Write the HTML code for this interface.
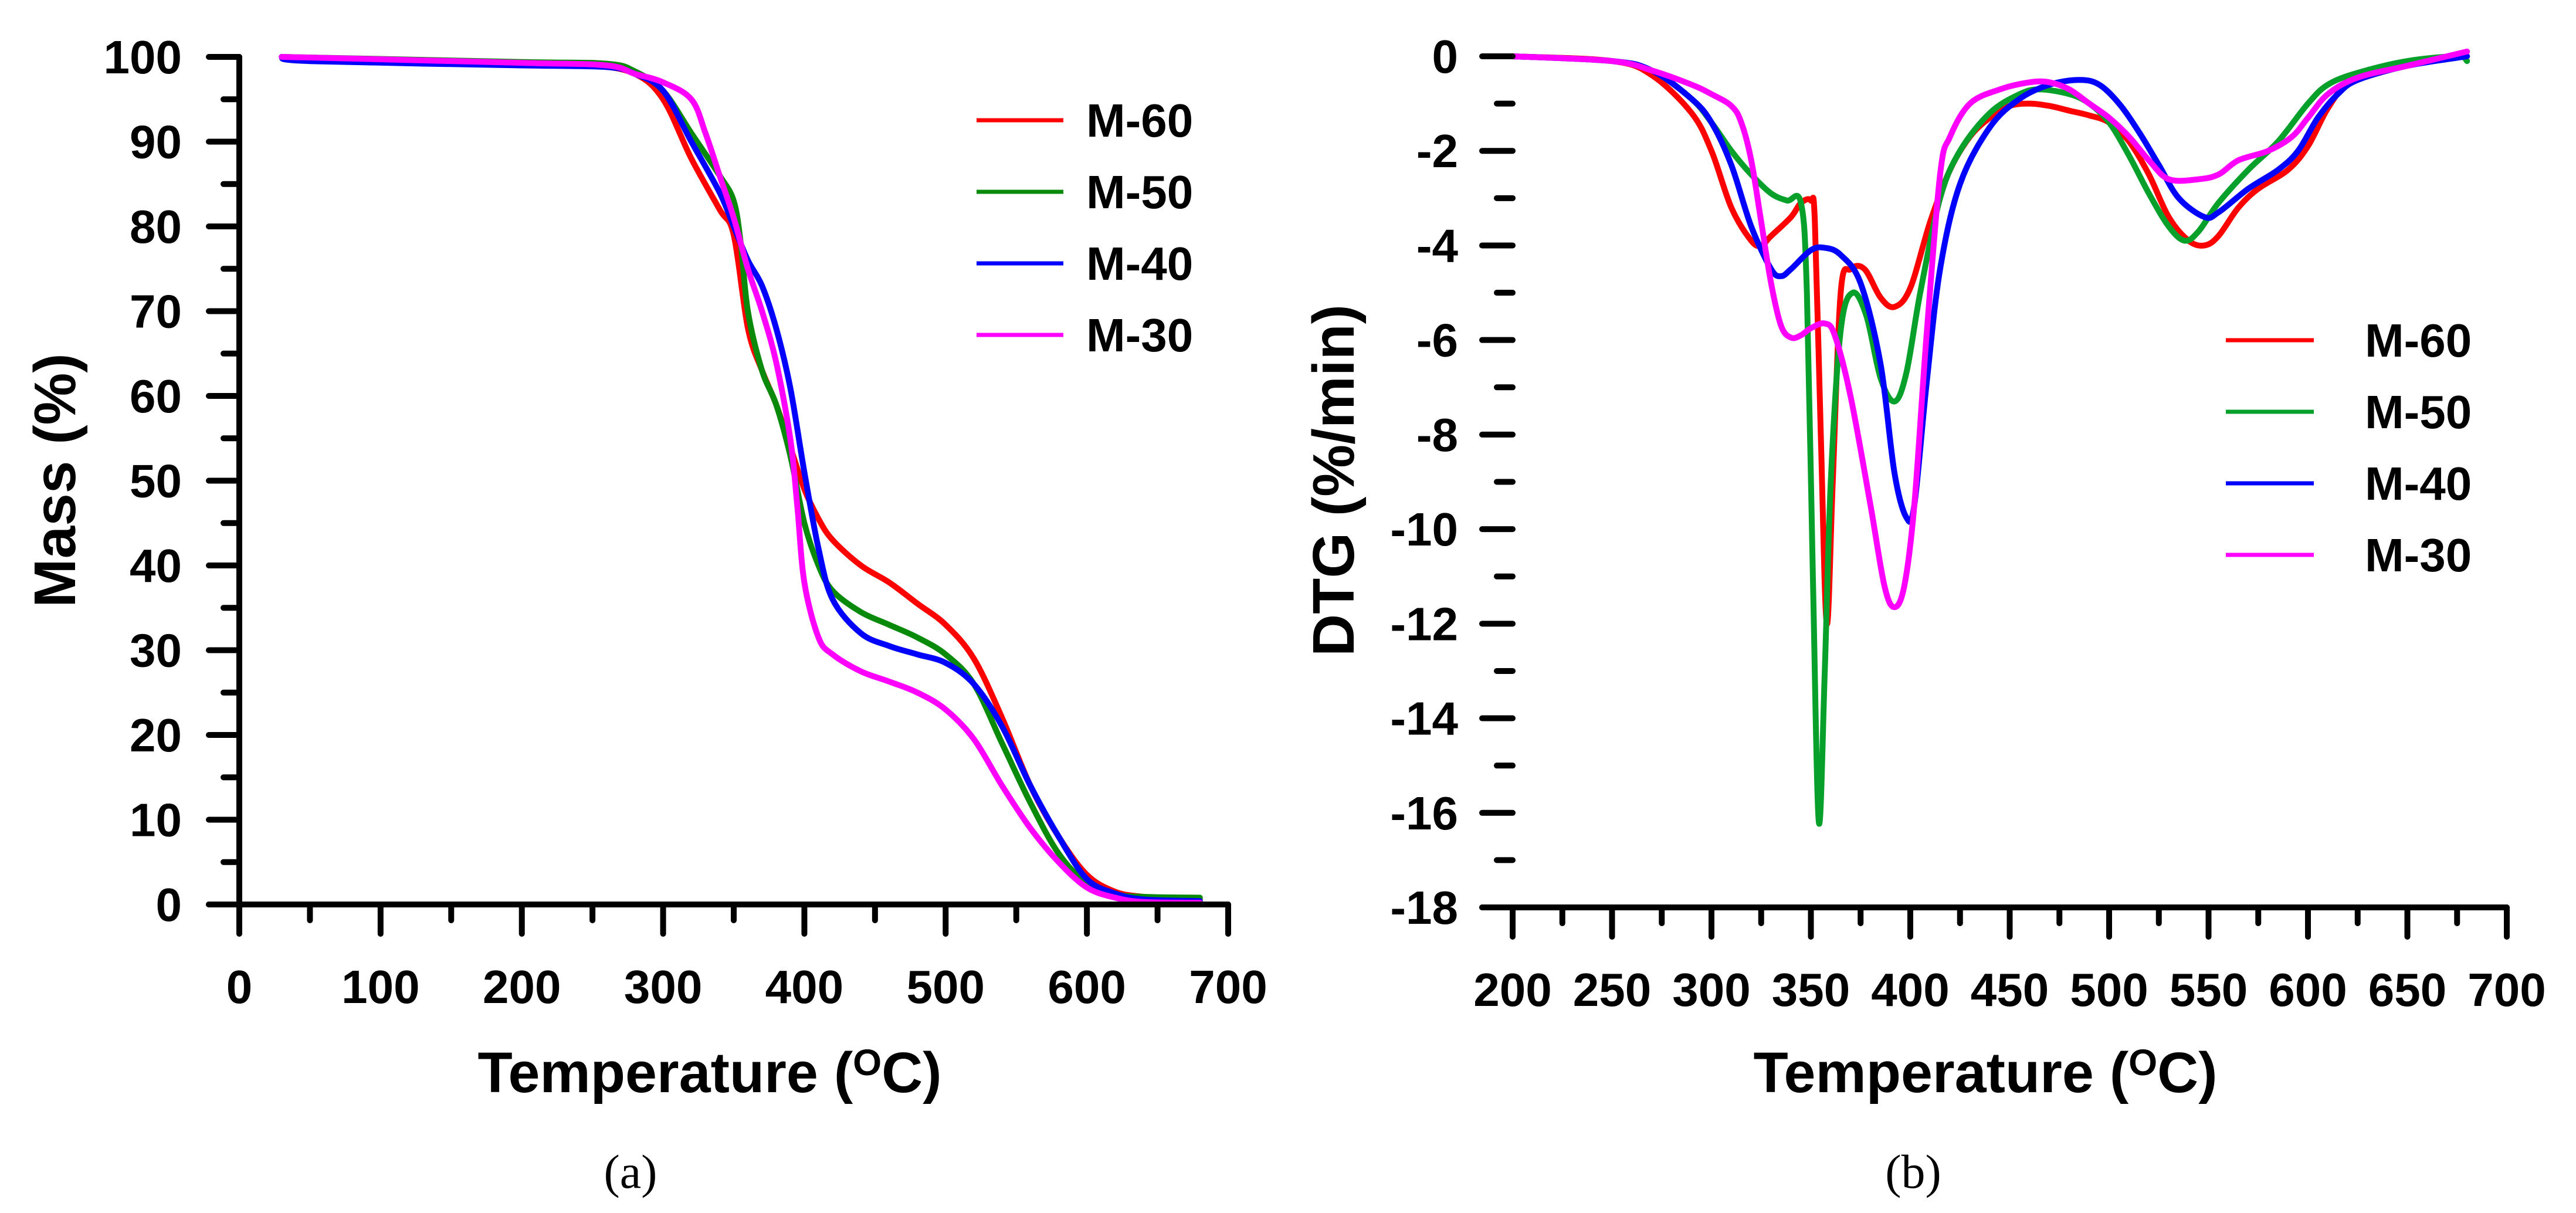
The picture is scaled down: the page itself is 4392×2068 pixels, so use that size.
<!DOCTYPE html>
<html><head><meta charset="utf-8"><style>
html,body{margin:0;padding:0;background:#fff;}
svg{display:block;font-family:"Liberation Sans",Arial,sans-serif;}
</style></head><body>
<svg id="fig" width="4392" height="2068" viewBox="0 0 4392 2068" xmlns="http://www.w3.org/2000/svg">
<g id="chartA"></g>
<g id="chartB"></g>
</svg>
<script>
// ---------- Chart A data (Mass %) ----------
const seriesNames = ["M-60","M-50","M-40","M-30"];
const aXTicks = [0,100,200,300,400,500,600,700];
const aYTicks = [0,10,20,30,40,50,60,70,80,90,100];
const a60T = [30,100,200,250,280,300,320,340,350,360,370,380,390,400,410,420,440,460,480,500,520,540,560,580,600,620,640,660,680];
const a60V = [100,99.6,99.3,99,98,95,88,82,79,68,63,59,54,49,45.5,43,40,38,35.5,33,29,22,14,8,3.5,1.5,0.9,0.7,0.6];
const a50T = [30,200,260,280,300,320,340,350,355,360,370,380,390,400,410,420,440,460,480,500,520,540,560,580,600,620,640,680];
const a50V = [100,99.4,99.2,98.3,96,91,86,83,78,70,63,59,53,45,40,37,34.5,33,31.5,29.5,26,19,12,6,2.5,1.2,0.9,0.8];
const a40T = [30,50,200,260,280,300,320,340,350,360,370,380,390,400,410,420,440,460,480,500,520,540,560,580,600,620,640,680];
const a40V = [100,99.5,99,98.8,98,96,90,84,80,76,73,68,61,51,42,36,32,30.5,29.5,28.5,26,21,14,8,3,1.3,0.6,0.4];
const a30T = [30,200,260,280,300,320,330,340,350,360,370,380,390,395,400,410,420,440,460,480,500,520,540,560,580,600,620,640,680];
const a30V = [100,99.3,99,98,97,95,91,86,81,75,70,64,55,47,38,31.5,29.5,27.5,26.3,25,23,19.5,14,9,5,2,0.8,0.3,0.2];
// ---------- Chart B data (DTG %/min) ----------
const bXTicks = [200,250,300,350,400,450,500,550,600,650,700];
const bYTicks = [0,-2,-4,-6,-8,-10,-12,-14,-16,-18];
const b60T = [200,250,270,290,300,310,320,325,330,340,345,350,352,355,358,361,365,370,377,385,392,400,410,420,430,440,450,460,470,480,490,500,510,520,530,540,548,555,565,575,590,600,610,620,640,660,680];
const b60V = [0,-0.1,-0.4,-1.2,-2,-3.2,-3.9,-4.0,-3.8,-3.4,-3.1,-3.05,-3.5,-8,-12,-9,-5,-4.5,-4.5,-5.1,-5.3,-4.9,-3.5,-2.4,-1.7,-1.3,-1.05,-1.0,-1.05,-1.15,-1.25,-1.4,-1.8,-2.5,-3.4,-3.9,-4.0,-3.8,-3.2,-2.8,-2.4,-1.9,-1.1,-0.6,-0.3,-0.1,0];
const b50T = [200,250,270,290,300,310,320,330,338,345,348,351,354,357,360,365,371,378,385,392,398,405,415,425,440,455,465,480,490,500,510,520,530,538,545,555,570,585,600,610,625,650,675,680];
const b50V = [0,-0.1,-0.3,-0.9,-1.4,-2.0,-2.5,-2.9,-3.05,-3.1,-5,-11,-16.2,-13,-9,-5.8,-5.0,-5.5,-6.8,-7.3,-6.7,-5,-3,-2,-1.2,-0.8,-0.7,-0.8,-1.0,-1.4,-2.1,-2.9,-3.6,-3.9,-3.7,-3.1,-2.4,-1.8,-1.0,-0.6,-0.35,-0.1,0,-0.1];
const b40T = [200,250,270,290,300,310,320,330,335,340,350,357,365,375,385,392,398,402,408,415,425,440,455,470,485,495,505,515,525,535,548,555,570,585,595,605,615,625,650,680];
const b40V = [0,-0.1,-0.3,-0.9,-1.4,-2.3,-3.6,-4.5,-4.65,-4.5,-4.1,-4.05,-4.2,-4.8,-6.5,-8.8,-9.75,-9.5,-7,-4.5,-2.7,-1.5,-0.9,-0.6,-0.5,-0.6,-1.0,-1.6,-2.3,-3.0,-3.4,-3.3,-2.8,-2.4,-2.0,-1.3,-0.8,-0.5,-0.2,0];
const b30T = [200,250,270,290,300,310,315,320,325,330,335,340,345,350,357,362,370,380,387,392,397,402,408,415,420,430,445,460,470,480,490,500,510,520,530,545,555,565,580,592,600,610,625,650,680];
const b30V = [0,-0.1,-0.3,-0.6,-0.8,-1.05,-1.4,-2.2,-3.5,-4.8,-5.7,-5.95,-5.9,-5.75,-5.65,-5.9,-7.2,-9.5,-11.2,-11.65,-11.2,-9.5,-6,-2.5,-1.7,-1.0,-0.7,-0.55,-0.55,-0.7,-1.0,-1.3,-1.7,-2.2,-2.6,-2.6,-2.5,-2.2,-2.0,-1.7,-1.3,-0.8,-0.45,-0.2,0.1];

const NS = "http://www.w3.org/2000/svg";
function mk(parent, tag, attrs, text){
  const e = document.createElementNS(NS, tag);
  for (const k in attrs) e.setAttribute(k, attrs[k]);
  if (text !== undefined) e.textContent = text;
  parent.appendChild(e);
  return e;
}
function smoothPath(pts){
  let d = "M" + pts[0][0].toFixed(1) + "," + pts[0][1].toFixed(1);
  for (let i = 0; i < pts.length - 1; i++){
    const p0 = pts[Math.max(0,i-1)], p1 = pts[i], p2 = pts[i+1], p3 = pts[Math.min(pts.length-1,i+2)];
    const c1x = p1[0] + (p2[0]-p0[0])/6, c1y = p1[1] + (p2[1]-p0[1])/6;
    const c2x = p2[0] - (p3[0]-p1[0])/6, c2y = p2[1] - (p3[1]-p1[1])/6;
    d += " C" + c1x.toFixed(1)+","+c1y.toFixed(1)+" "+c2x.toFixed(1)+","+c2y.toFixed(1)+" "+p2[0].toFixed(1)+","+p2[1].toFixed(1);
  }
  return d;
}

function drawChart(g, cfg){
  const sx = v => cfg.x0 + (v - cfg.xmin) / (cfg.xmax - cfg.xmin) * (cfg.x1 - cfg.x0);
  const sy = v => cfg.y0 + (v - cfg.ymin) / (cfg.ymax - cfg.ymin) * (cfg.y1 - cfg.y0);
  const axisTop = sy(cfg.ymax);
  cfg.series.forEach((s, i) => {
    const pts = s.t.map((t, j) => [sx(t), sy(s.v[j])]);
    const p = mk(g, "path", {d: smoothPath(pts), fill:"none", stroke:s.color, "stroke-width":10, "stroke-linejoin":"round", "stroke-linecap":"round"});
    
    
  });
  const ax = mk(g, "path", {d:"M"+cfg.x0+","+axisTop+" V"+cfg.axisY, fill:"none", stroke:"#000","stroke-width":10,"stroke-linecap":"round"});
  
  
  const bx = mk(g, "line", {x1:cfg.x0-52, y1:cfg.axisY, x2:cfg.x1, y2:cfg.axisY, stroke:"#000","stroke-width":10,"stroke-linecap":"round"});
  
  
  cfg.xTicks.forEach((v, i) => {
    const x = sx(v);
    const t = mk(g, "line", {x1:x, y1:cfg.axisY, x2:x, y2:cfg.axisY+50, stroke:"#000","stroke-width":10,"stroke-linecap":"round"});
    
    
    const lb = mk(g, "text", {x:x, y:cfg.axisY+168, "text-anchor":"middle", "font-size":80, "font-weight":"bold"}, String(v));
    
    
    if (i < cfg.xTicks.length - 1){
      const xm = sx((v + cfg.xTicks[i+1]) / 2);
      const m = mk(g, "line", {x1:xm, y1:cfg.axisY, x2:xm, y2:cfg.axisY+27, stroke:"#000","stroke-width":10,"stroke-linecap":"round"});
      
      
    }
  });
  cfg.yTicks.forEach((v, i) => {
    const y = sy(v);
    const t = mk(g, "line", {x1:cfg.x0-52, y1:y, x2:cfg.x0, y2:y, stroke:"#000","stroke-width":10,"stroke-linecap":"round"});
    
    
    const lb = mk(g, "text", {x:cfg.ylabX, y:y+28, "text-anchor":"end", "font-size":80, "font-weight":"bold"}, String(v));
    
    
    if (i < cfg.yTicks.length - 1){
      const ym = sy((v + cfg.yTicks[i+1]) / 2);
      const m = mk(g, "line", {x1:cfg.x0-27, y1:ym, x2:cfg.x0, y2:ym, stroke:"#000","stroke-width":10,"stroke-linecap":"round"});
      
      
    }
  });
  const xt = mk(g, "text", {x:cfg.xTitleX, y:1862, "text-anchor":"middle", "font-size":97, "font-weight":"bold"});
  
  
  mk(xt, "tspan", {}, "Temperature (");
  mk(xt, "tspan", {"font-size":63, dy:-29}, "O");
  mk(xt, "tspan", {dy:29}, "C)");
  const ytl = mk(g, "text", {x:0, y:0, transform:"translate("+cfg.yTitleX+",819) rotate(-90)", "text-anchor":"middle", "font-size":100, "font-weight":"bold"}, cfg.yTitle);
  
  
  const pl = mk(g, "text", {x:cfg.panelX, y:2025, "text-anchor":"middle", "font-size":82, "font-family":"'Liberation Serif',serif"}, cfg.panel);
  
  
  const lg = mk(g, "g", {});
  
  
  cfg.series.forEach((s, i) => {
    const y = cfg.legY + i * cfg.legDy;
    const e = mk(lg, "g", {});
    
    
    mk(e, "line", {x1:cfg.legX1, y1:y, x2:cfg.legX2, y2:y, stroke:s.color, "stroke-width":7});
    mk(e, "text", {x:cfg.legTx, y:y+28, "font-size":80, "font-weight":"bold"}, seriesNames[i]);
  });
}

drawChart(document.getElementById("chartA"), {
  x0:408, x1:2094, xmin:0, xmax:700, y0:1542, y1:97, ymin:0, ymax:100, axisY:1542,
  xTicks:aXTicks, yTicks:aYTicks, ylabX:310,
  xTitleX:1210, yTitleX:128, yTitle:"Mass (%)", panel:"(a)", panelX:1075,
  legX1:1665, legX2:1813, legTx:1852, legY:205, legDy:122,
  series:[{t:a60T,v:a60V,color:"#ff0000"},{t:a50T,v:a50V,color:"#0a8a0a"},{t:a40T,v:a40V,color:"#0000ff"},{t:a30T,v:a30V,color:"#ff00ff"}]
});
drawChart(document.getElementById("chartB"), {
  x0:2579, x1:4274, xmin:200, xmax:700, y0:96, y1:1547, ymin:0, ymax:-18, axisY:1547,
  xTicks:bXTicks, yTicks:bYTicks, ylabX:2486,
  xTitleX:3385, yTitleX:2308, yTitle:"DTG (%/min)", panel:"(b)", panelX:3262,
  legX1:3795, legX2:3945, legTx:4032, legY:580, legDy:122,
  series:[{t:b60T,v:b60V,color:"#ff0000"},{t:b50T,v:b50V,color:"#06a02a"},{t:b40T,v:b40V,color:"#0000ff"},{t:b30T,v:b30V,color:"#ff00ff"}]
});
</script>
</body></html>
